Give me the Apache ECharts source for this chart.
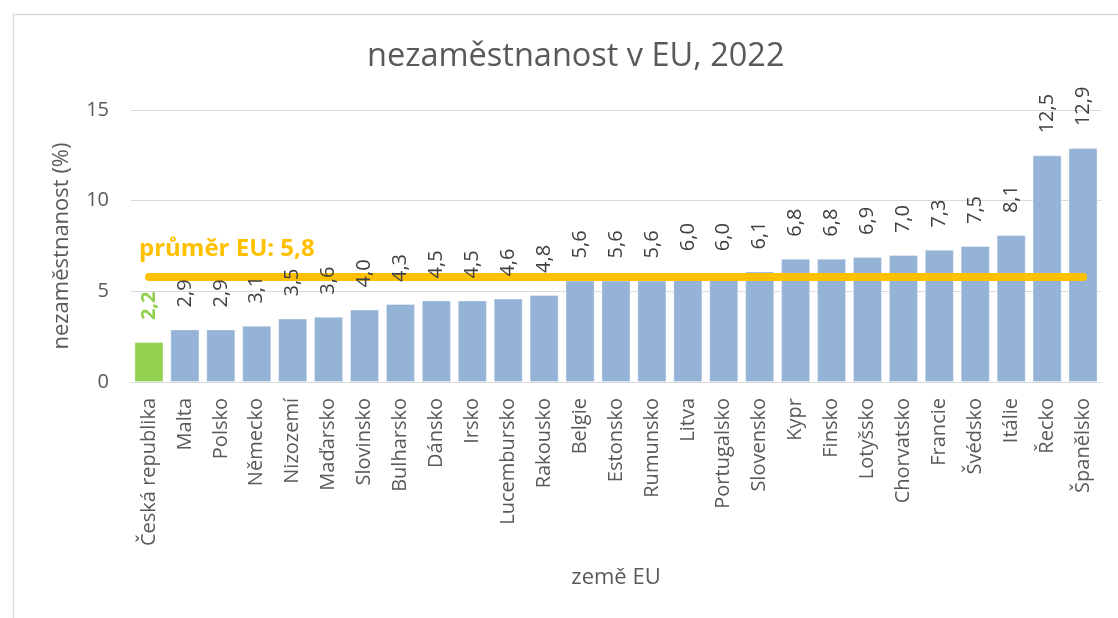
<!DOCTYPE html>
<html>
<head>
<meta charset="utf-8">
<script src="https://cdn.jsdelivr.net/npm/echarts@6/dist/echarts.min.js"></script>
<style>
  html, body { margin: 0; padding: 0; background: #fff; }
  #chart { width: 1118px; height: 618px; }
</style>
</head>
<body>
<div id="chart"></div>
<script>
// data
const countries = ['Česká republika', 'Malta', 'Polsko', 'Německo', 'Nizozemí', 'Maďarsko', 'Slovinsko',
  'Bulharsko', 'Dánsko', 'Irsko', 'Lucembursko', 'Rakousko', 'Belgie', 'Estonsko', 'Rumunsko', 'Litva',
  'Portugalsko', 'Slovensko', 'Kypr', 'Finsko', 'Lotyšsko', 'Chorvatsko', 'Francie', 'Švédsko', 'Itálie',
  'Řecko', 'Španělsko'];
const rates = [2.2, 2.9, 2.9, 3.1, 3.5, 3.6, 4.0, 4.3, 4.5, 4.5, 4.6, 4.8, 5.6, 5.6, 5.6, 6.0, 6.0, 6.1,
  6.8, 6.8, 6.9, 7.0, 7.3, 7.5, 8.1, 12.5, 12.9];
const highlight = 'Česká republika';
const euAverage = 5.8;
const yTicks = [0, 5, 10, 15];

const font = '"Open Sans", "Noto Sans", sans-serif';
const txt = '#595959';

const fmt = v => v.toFixed(1).replace('.', ',');

// bars (Czech one in green)
const barData = rates.map((v, i) => {
  const item = { value: v };
  if (countries[i] === highlight) item.itemStyle = { color: '#92D050' };
  return item;
});

// same values again, only to carry the labels above the average line
const labelData = rates.map((v, i) => {
  const item = { value: v };
  if (countries[i] === highlight) item.label = { color: '#92D050', fontWeight: 'bold' };
  return item;
});

const chart = echarts.init(document.getElementById('chart'));

chart.setOption({
  animation: false,
  textStyle: { fontFamily: font },
  graphic: [{
    type: 'rect',
    left: 11, top: 12,
    shape: { width: 1200, height: 700 },
    style: { fill: 'none', stroke: '#d9d9d9', lineWidth: 1.5 },
    silent: true
  }],
  title: {
    text: 'nezaměstnanost v EU, 2022',
    left: 362,
    top: 35,
    textStyle: { fontFamily: font, fontSize: 32.5, fontWeight: 'normal', color: txt }
  },
  grid: { left: 131, right: 17, top: 110, bottom: 236 },
  xAxis: {
    type: 'category',
    data: countries,
    name: 'země EU',
    nameLocation: 'middle',
    nameGap: 185,
    nameTextStyle: { fontFamily: font, fontSize: 22, color: txt },
    axisLine: { lineStyle: { color: '#d9d9d9', width: 1 } },
    axisTick: { show: false },
    axisLabel: { rotate: 90, interval: 0, margin: 16, fontSize: 20, color: txt, fontFamily: font }
  },
  yAxis: {
    type: 'value',
    min: yTicks[0],
    max: yTicks[yTicks.length - 1],
    interval: 5,
    name: 'nezaměstnanost (%)',
    nameLocation: 'middle',
    nameGap: 58,
    nameTextStyle: { fontFamily: font, fontSize: 22, color: txt },
    axisLine: { show: false },
    axisTick: { show: false },
    axisLabel: { margin: 22, fontSize: 20, color: txt, fontFamily: font },
    splitLine: { lineStyle: { color: '#d9d9d9', width: 1 } }
  },
  series: [
    {
      type: 'bar',
      data: barData,
      z: 2,
      barCategoryGap: '19%',
      itemStyle: { color: '#95B3D7', borderColor: 'rgba(255,255,255,0.35)', borderWidth: 1 }
    },
    {
      // průměr EU
      type: 'line',
      data: [],
      z: 3,
      markLine: {
        silent: true,
        symbol: 'none',
        z: 3,
        lineStyle: { color: '#FFC000', width: 8, type: 'solid', cap: 'round' },
        label: {
          show: true,
          position: 'insideStartTop',
          distance: 16,
          offset: [-26, 0],
          formatter: 'průměr EU: ' + fmt(euAverage),
          color: '#FFC000',
          fontWeight: 'bold',
          fontSize: 24,
          fontFamily: font
        },
        data: [[{ coord: [0, euAverage] }, { coord: [countries.length - 1, euAverage] }]]
      }
    },
    {
      type: 'bar',
      data: labelData,
      z: 6,
      barGap: '-100%',
      barCategoryGap: '19%',
      silent: true,
      itemStyle: { color: 'transparent' },
      label: {
        show: true,
        position: 'top',
        distance: 22,
        rotate: 90,
        align: 'left',
        verticalAlign: 'middle',
        fontSize: 20,
        fontFamily: font,
        color: '#404040',
        formatter: p => fmt(p.value)
      }
    }
  ]
});
</script>
</body>
</html>
